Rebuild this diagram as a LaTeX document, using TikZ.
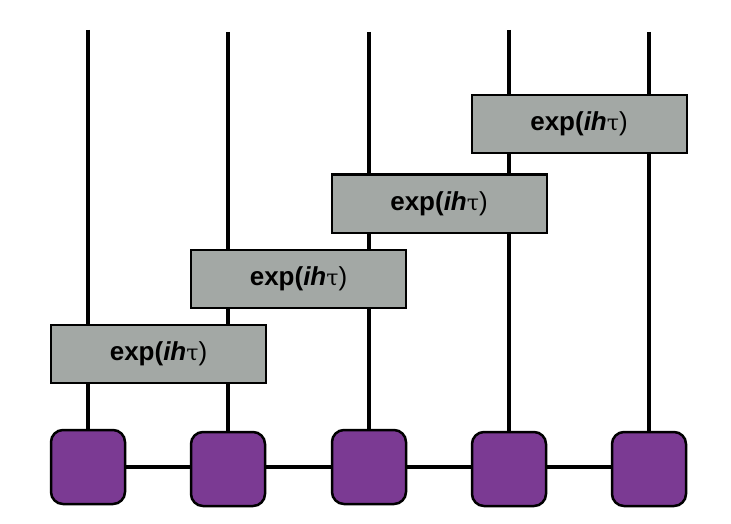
\documentclass[tikz,border=0pt]{standalone}
\usepackage{fontspec}
\setmainfont{Liberation Sans}
\newfontfamily\taufont{DejaVu Serif}
\definecolor{gatefill}{HTML}{A3A8A5}
\definecolor{sitefill}{HTML}{7B3A93}
\tikzset{
  wire/.style={line width=4.5pt, draw=black},
  gate/.style={draw=black, line width=2pt, fill=gatefill, minimum width=215pt, minimum height=58pt, inner sep=0pt},
  gatelabel/.style={font=\fontsize{26}{28}\selectfont, inner sep=0pt},
  site/.style={draw=black, line width=2.5pt, fill=sitefill, minimum width=74pt, minimum height=74pt, rounded corners=12pt, inner sep=0pt},
}
\newcommand{\gatetext}{\textbf{exp(\textit{ih}}{\taufont\fontsize{22}{26}\selectfont τ})}
\begin{document}
\begin{tikzpicture}[x=1pt,y=-1pt]
\useasboundingbox (0,0) rectangle (731,524);
% top ends
\coordinate (t1) at (88,30);
\coordinate (t2) at (228,32);
\coordinate (t3) at (369,32);
\coordinate (t4) at (509,30);
\coordinate (t5) at (649,32);
% sites
\node[site] (s1) at (88,467) {};
\node[site] (s2) at (228,469) {};
\node[site] (s3) at (369,467) {};
\node[site] (s4) at (509,469) {};
\node[site] (s5) at (649,469) {};
% gates
\node[gate] (g1) at (158.5,354) {};
\node[gate] (g2) at (298.5,279) {};
\node[gate] (g3) at (439,203.5) {};
\node[gate] (g4) at (579,124) {};
\draw[wire] (s1.east |- 0,467) -- (s2.west |- 0,467);
\draw[wire] (s2.east |- 0,467) -- (s3.west |- 0,467);
\draw[wire] (s3.east |- 0,467) -- (s4.west |- 0,467);
\draw[wire] (s4.east |- 0,467) -- (s5.west |- 0,467);
\draw[wire] (t1) -- (g1.north -| t1);
\draw[wire] (g1.south -| t1) -- (s1.north);
\draw[wire] (t2) -- (g2.north -| t2);
\draw[wire] (g2.south -| t2) -- (g1.north -| t2);
\draw[wire] (g1.south -| t2) -- (s2.north);
\draw[wire] (t3) -- (g3.north -| t3);
\draw[wire] (g3.south -| t3) -- (g2.north -| t3);
\draw[wire] (g2.south -| t3) -- (s3.north);
\draw[wire] (t4) -- (g4.north -| t4);
\draw[wire] (g4.south -| t4) -- (g3.north -| t4);
\draw[wire] (g3.south -| t4) -- (s4.north);
\draw[wire] (t5) -- (g4.north -| t5);
\draw[wire] (g4.south -| t5) -- (s5.north);
\node[gatelabel] (l1) at (g1) {\gatetext};
\node[gatelabel] (l2) at (g2) {\gatetext};
\node[gatelabel] (l3) at (g3) {\gatetext};
\node[gatelabel] (l4) at (g4) {\gatetext};
\end{tikzpicture}
\end{document}
